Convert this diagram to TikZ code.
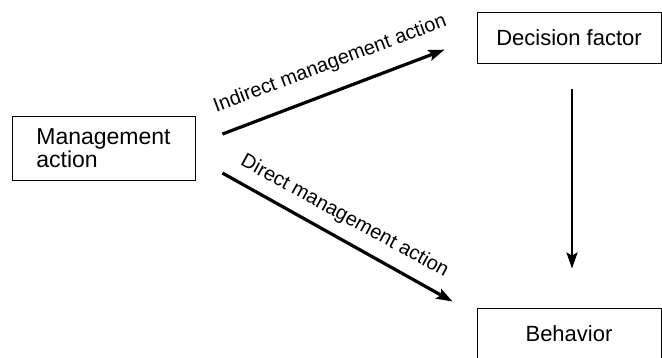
\documentclass[tikz,border=0pt]{standalone}
\usepackage{fontspec}
\setmainfont{Liberation Sans}
\usetikzlibrary{calc,arrows.meta}
\tikzstyle{block} = [draw, rectangle, line width=0.9pt, inner sep=0pt, minimum height=51pt, minimum width=184pt, font=\fontsize{22}{23}\selectfont]
\tikzstyle{Twolineblock} = [block, minimum height=64pt, minimum width=183pt, align=left, font=\fontsize{23}{23}\selectfont]
\tikzstyle{flow} = [line width=3.2pt, -{Stealth[length=16pt,width=11pt,inset=3pt]}]
\tikzstyle{flowlabel} = [font=\fontsize{20}{22}\selectfont, anchor=base, inner sep=0pt]

\begin{document}
\begin{tikzpicture}[x=1pt,y=1pt]
\useasboundingbox (0,0) rectangle (662,358);

%% Blokke %%
\node [Twolineblock] (Management) at (103.5,210) {Management\\action};

\node [block] (Decision) at ($(Management)+(465.5,110.5)$) {Decision factor};

\node [block] (Behavior) at ($(Decision)+(0,-296)$) {Behavior};

%% Forbindelse %%
\draw[flow, shorten <=28.9pt, shorten >=34.2pt] ([yshift=3.7pt]Management.east) -- (Decision.west);
\draw[flow, shorten <=30.9pt, shorten >=27.5pt] ([yshift=-10pt]Management.east) -- ([yshift=-7.4pt]Behavior.north west);
\draw[flow, line width=2.6pt, shorten <=26pt, shorten >=39pt] ([xshift=3pt]Decision.south) -- ([xshift=3pt]Behavior.north);

%% Tekst %%
\node [flowlabel, rotate=20.5] (IndirectTag) at (332,289) {Indirect management action};
\node [flowlabel, rotate=-28.7] (DirectTag) at (342,137) {Direct management action};
\end{tikzpicture}
\end{document}
